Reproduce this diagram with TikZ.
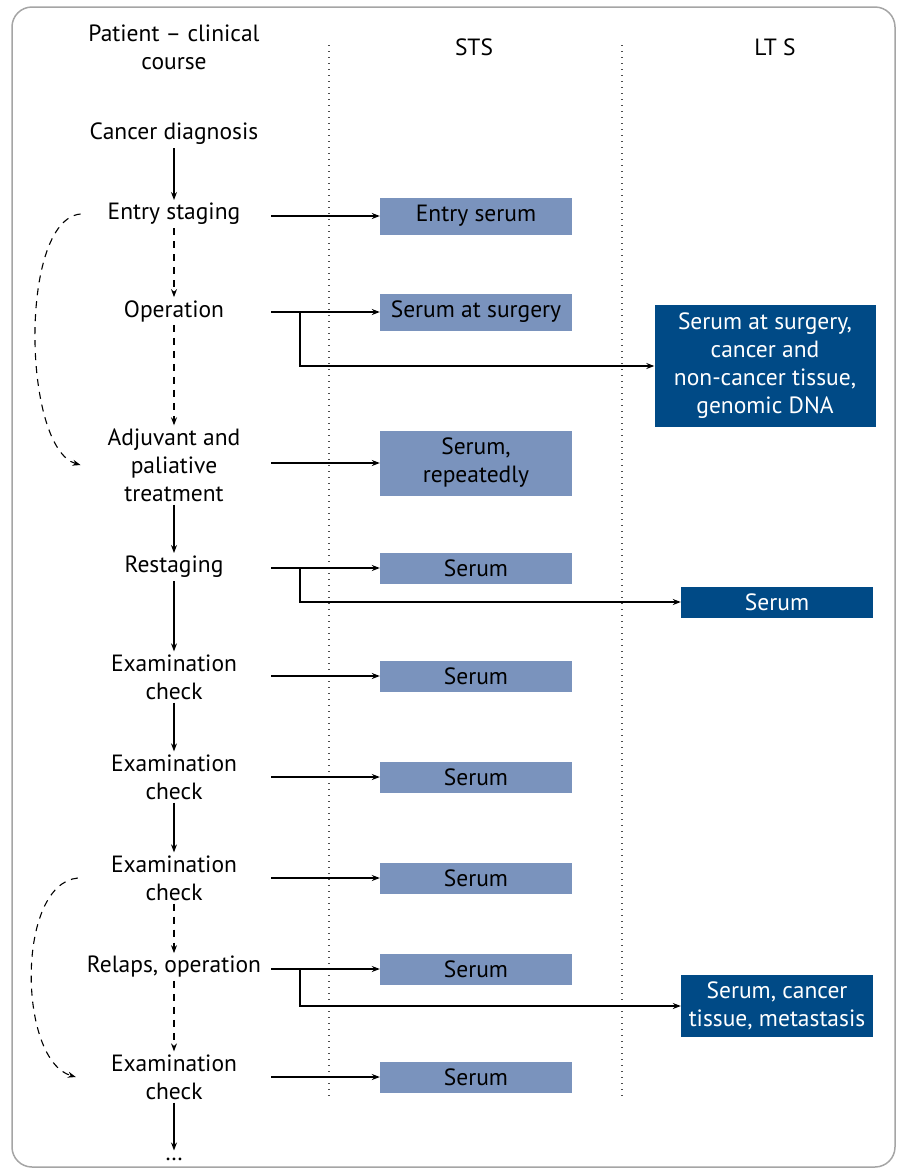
\documentclass[tikz,border=0pt]{standalone}
\usepackage{fontspec}
\setmainfont{PT Sans}
\usetikzlibrary{arrows.meta,positioning,calc}
\definecolor{stsblue}{RGB}{122,147,189}
\definecolor{ltsblue}{RGB}{0,74,134}
\definecolor{framegray}{RGB}{165,165,165}

\begin{document}
\begin{tikzpicture}[x=1pt,y=-1pt,
    every node/.style={font=\fontsize{23.5}{28}\selectfont},
    stage/.style={align=center,inner sep=3pt},
    stsbox/.style={fill=stsblue,minimum width=192pt,minimum height=31pt,align=center,inner sep=2pt},
    ltsbox/.style={fill=ltsblue,text=white,minimum width=192pt,minimum height=31pt,align=center,inner sep=2pt},
    flow/.style={-{Stealth[length=8pt,width=6pt]},line width=1.1pt},
    skip/.style={flow,dash pattern=on 7pt off 6pt},
    guide/.style={black!70,line width=1.2pt,dash pattern=on 1.2pt off 4.8pt}]
    \useasboundingbox (0,0) rectangle (898,1171);
    \draw[framegray,line width=1.5pt,rounded corners=20pt] (12,7) rectangle (895,1167);

    % column heads and separators
    \node[stage] (hpat) at (174,47) {Patient -- clinical\\course};
    \node (hsts) at (474,47) {STS};
    \node (hlts) at (775,47) {LT S};
    \draw[guide] (329,45) -- (329,1100);
    \draw[guide] (622,45) -- (622,1100);

    % clinical course
    \node[stage] (cancer)  at (174,134)  {Cancer diagnosis};
    \node[stage] (entry)   at (174,214)  {Entry staging};
    \node[stage] (oper)    at (174,311)  {Operation};
    \node[stage] (adj)     at (174,465)  {Adjuvant and\\paliative\\treatment};
    \node[stage] (restage) at (174,567)  {Restaging};
    \node[stage] (exama)   at (174,677)  {Examination\\check};
    \node[stage] (examb)   at (174,777)  {Examination\\check};
    \node[stage] (examc)   at (174,878)  {Examination\\check};
    \node[stage] (relaps)  at (174,967)  {Relaps, operation};
    \node[stage] (examd)   at (174,1077) {Examination\\check};
    \node[stage] (more)    at (174,1159) {\dots};

    % STS samples
    \node[stsbox,minimum height=37pt] (sentry) at (476,216)  {Entry serum};
    \node[stsbox,minimum height=37pt] (ssurg)  at (476,312)  {Serum at surgery};
    \node[stsbox,minimum height=65pt] (sadj)   at (476,463)  {Serum,\\repeatedly};
    \node[stsbox] (srest)  at (476,568)  {Serum};
    \node[stsbox] (sexa)   at (476,676)  {Serum};
    \node[stsbox] (sexb)   at (476,777)  {Serum};
    \node[stsbox] (sexc)   at (476,878)  {Serum};
    \node[stsbox] (srel)   at (476,969)  {Serum};
    \node[stsbox] (sexd)   at (476,1077) {Serum};

    % LTS samples
    \node[ltsbox,minimum width=221pt,minimum height=122pt] (lsurg) at (765,366) {Serum at surgery,\\cancer and\\non-cancer tissue,\\genomic DNA};
    \node[ltsbox] (lrest) at (777,602)  {Serum};
    \node[ltsbox,minimum height=62pt] (lrel) at (777,1006) {Serum, cancer\\tissue, metastasis};

    \coordinate (tap) at (271,0);
    \coordinate (fork) at (300,0);

    \draw[flow] (cancer) -- (entry);
    \draw[skip] (entry) -- (oper);
    \draw[skip] (oper) -- (adj);
    \draw[flow] (adj) -- (restage);
    \draw[flow] (restage) -- (exama);
    \draw[flow] (exama) -- (examb);
    \draw[flow] (examb) -- (examc);
    \draw[skip] (examc) -- (relaps);
    \draw[skip] (relaps) -- (examd);
    \draw[flow,shorten >=4pt] (examd) -- (more);

    \draw[skip] ([xshift=-24pt]entry.west) .. controls +(-62,6) and +(-58,-17) .. ([xshift=-24pt]adj.west);
    \draw[skip] ([xshift=-30pt]examc.west) .. controls +(-62,6) and +(-58,-17) .. ([xshift=-32pt]examd.west);

    \foreach \s in {sentry,ssurg,sadj,srest,sexa,sexb,sexc,srel,sexd}
        \draw[flow] (\s.west -| tap) -- (\s.west);
    \draw[flow] (ssurg.west -| fork) |- (lsurg.west);
    \draw[flow] (srest.west -| fork) |- (lrest.west);
    \draw[flow] (srel.west -| fork) |- (lrel.west);
\end{tikzpicture}
\end{document}
